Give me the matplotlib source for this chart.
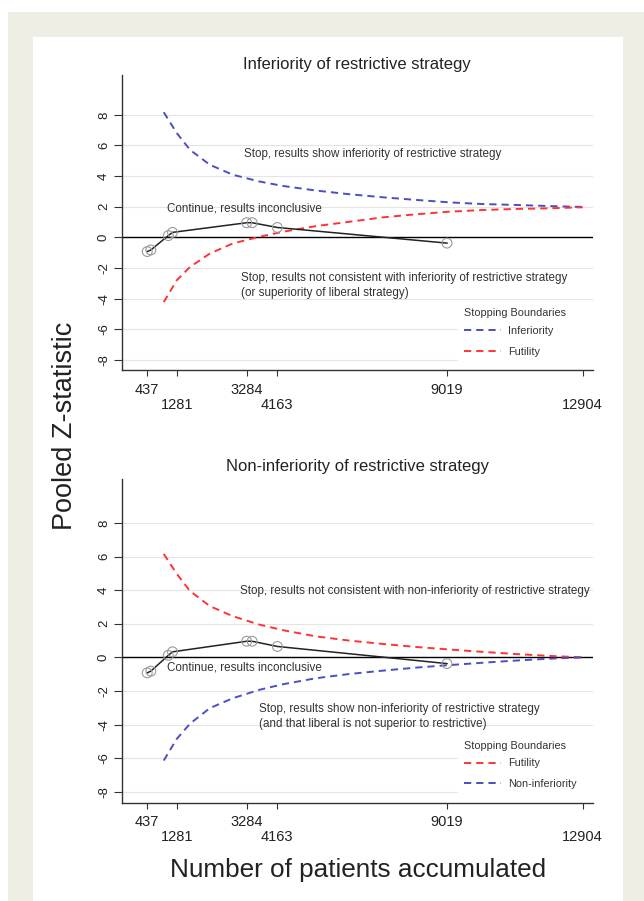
import matplotlib
matplotlib.use("Agg")
import matplotlib.pyplot as plt
from matplotlib.patches import Rectangle

plt.rcParams['font.family'] = ['Liberation Sans', 'DejaVu Sans']
plt.rcParams['lines.scale_dashes'] = False

# %% Data

# interim looks (cumulative patients) and pooled Z at each look
looks_n = [437, 540, 1040, 1160, 3284, 3440, 4163, 9019]
looks_z = [-0.92, -0.82, 0.12, 0.33, 0.96, 0.96, 0.65, -0.37]

# boundary curves, sampled along the patient axis
bound_n = [910, 1280, 1660, 2230, 2890, 3650, 4320, 5270, 6220, 7180, 8130, 9080, 10030, 10980, 11930, 12904]
inferiority_z = [8.17, 6.82, 5.72, 4.74, 4.09, 3.65, 3.36, 3.06, 2.82, 2.62, 2.45, 2.29, 2.18, 2.12, 2.05, 1.99]
futility_top_z = [-4.22, -2.80, -1.93, -1.05, -0.39, 0.04, 0.37, 0.74, 1.02, 1.31, 1.51, 1.68, 1.79, 1.86, 1.90, 1.97]
futility_bot_z = [6.16, 4.98, 3.95, 3.05, 2.45, 1.95, 1.62, 1.25, 1.00, 0.80, 0.62, 0.47, 0.33, 0.20, 0.09, 0.0]
noninf_z = [-6.14, -4.86, -3.95, -3.02, -2.43, -1.93, -1.60, -1.24, -0.99, -0.79, -0.61, -0.46, -0.32, -0.19, -0.08, 0.0]

tick_row1 = [437, 3284, 9019]
tick_row2 = [1281, 4163, 12904]
ytick_vals = [-8, -6, -4, -2, 0, 2, 4, 6, 8]

BLUE = '#4a4fc2'
RED = '#ff3333'
TXT = '#333333'
ANN_FS = 8.4

W, H = 644, 901
fig = plt.figure(figsize=(W / 100, H / 100), dpi=100)
fig.patches.append(Rectangle((8 / W, 0), 1 - 8 / W, 1 - 12 / H, transform=fig.transFigure,
                             facecolor='#eeeee4', edgecolor='none', zorder=-10))
fig.patches.append(Rectangle((33 / W, 0), 590 / W, 1 - 37 / H, transform=fig.transFigure,
                             facecolor='white', edgecolor='none', zorder=-9))

ax1 = fig.add_axes([121.7 / W, 1 - 370 / H, 471.3 / W, 295 / H])
ax2 = fig.add_axes([121.7 / W, 1 - 802.7 / H, 471.3 / W, 323.4 / H])


def style_axes(ax):
    ax.set_facecolor('none')
    ax.set_xlim(-294, 13200)
    ax.set_ylim(-8.65, 10.6)
    for s in ['top', 'right']:
        ax.spines[s].set_visible(False)
    for s in ['left', 'bottom']:
        ax.spines[s].set_color('#333333')
        ax.spines[s].set_linewidth(1.0)
    ax.set_yticks(ytick_vals)
    ax.set_yticklabels([str(v) for v in ytick_vals], rotation=90, va='center', fontsize=9.5)
    ax.tick_params(axis='y', length=6, width=0.8, pad=2.5, colors='#333333', labelcolor='#222222')
    ax.yaxis.grid(True, color='#e4e4e4', lw=0.8)
    ax.set_axisbelow(True)
    ax.set_xticks(tick_row1)
    ax.set_xticklabels([str(v) for v in tick_row1], fontsize=10.5)
    ax.set_xticks(tick_row2, minor=True)
    ax.set_xticklabels([str(v) for v in tick_row2], minor=True, fontsize=10.5)
    ax.tick_params(axis='x', which='both', length=4.5, width=0.8, colors='#333333', labelcolor='#222222')
    ax.tick_params(axis='x', which='major', pad=4.5)
    ax.tick_params(axis='x', which='minor', pad=15.5)
    ax.axhline(0, color='black', lw=1.0, zorder=2)


def trajectory(ax):
    ax.plot(looks_n, looks_z, color='#222222', lw=1.1, zorder=4)
    ax.scatter(looks_n, looks_z, s=50, facecolors='none', edgecolors='#9a9a9a', linewidths=0.8, zorder=5)


def legend(ax, y0):
    leg = ax.legend(title='Stopping Boundaries', loc='lower left',
                    bbox_to_anchor=(0.7125, y0, 0.2875, 0.3), mode='expand', borderaxespad=0,
                    fontsize=7.8, title_fontsize=7.8, frameon=True, fancybox=False,
                    facecolor='white', edgecolor='white', framealpha=1,
                    handlelength=3.4, handletextpad=0.7, labelspacing=1.0,
                    borderpad=0.6, alignment='left')
    leg._legend_box.sep = 5.4  # tighter gap under the title
    for t in leg.get_texts():
        t.set_color(TXT)
    leg.get_title().set_color(TXT)


dash = (0, (5.2, 3.6))

# %% Top panel: inferiority
style_axes(ax1)
ax1.plot(bound_n, inferiority_z, color=BLUE, lw=1.4, ls=dash, label='Inferiority', zorder=3)
ax1.plot(bound_n, futility_top_z, color=RED, lw=1.4, ls=dash, label='Futility', zorder=3)
trajectory(ax1)
ax1.text(3197, 5.45, 'Stop, results show inferiority of restrictive strategy', fontsize=ANN_FS, color=TXT, va='center')
ax1.text(991, 1.9, 'Continue, results inconclusive', fontsize=ANN_FS, color=TXT, va='center')
ax1.text(3132, -2.65, 'Stop, results not consistent with inferiority of restrictive strategy',
         fontsize=ANN_FS, color=TXT, va='center')
ax1.text(3132, -3.61, '(or superiority of liberal strategy)', fontsize=ANN_FS, color=TXT, va='center')
legend(ax1, 7 / 295)

# %% Bottom panel: non-inferiority
style_axes(ax2)
ax2.plot(bound_n, futility_bot_z, color=RED, lw=1.4, ls=dash, label='Futility', zorder=3)
ax2.plot(bound_n, noninf_z, color=BLUE, lw=1.4, ls=dash, label='Non-inferiority', zorder=3)
trajectory(ax2)
ax2.text(3083, 3.94, 'Stop, results not consistent with non-inferiority of restrictive strategy',
         fontsize=ANN_FS, color=TXT, va='center')
ax2.text(991, -0.63, 'Continue, results inconclusive', fontsize=ANN_FS, color=TXT, va='center')
ax2.text(3634, -3.09, 'Stop, results show non-inferiority of restrictive strategy', fontsize=ANN_FS, color=TXT, va='center')
ax2.text(3634, -3.97, '(and that liberal is not superior to restrictive)', fontsize=ANN_FS, color=TXT, va='center')
legend(ax2, 7 / 323.4)

fig.text(357.3 / W, 1 - 64 / H, 'Inferiority of restrictive strategy', fontsize=12, ha='center', va='center', color='#222222')
fig.text(357.3 / W, 1 - 466.7 / H, 'Non-inferiority of restrictive strategy', fontsize=12, ha='center', va='center', color='#222222')
fig.text(65 / W, 1 - 426 / H, 'Pooled Z-statistic', fontsize=19.5, rotation=90, ha='center', va='center', color='#222222')
fig.text(358 / W, 1 - 870 / H, 'Number of patients accumulated', fontsize=18.8, ha='center', va='center', color='#222222')

fig.savefig('out.png', dpi=100)
